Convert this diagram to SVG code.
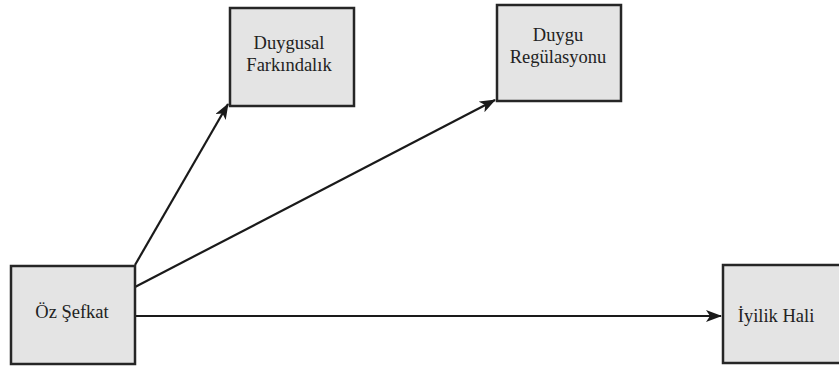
<svg xmlns="http://www.w3.org/2000/svg" width="839" height="369" viewBox="0 0 839 369">
<style>
.box{fill:#e4e4e4;stroke:#262626;stroke-width:2.5}
.lbl{font-family:'Liberation Serif','Times New Roman',serif;font-size:18.5px;fill:#222;text-anchor:middle}
.edge{stroke:#1a1a1a;stroke-width:2.2;fill:none;marker-end:url(#ah)}
</style>
<defs>
<marker id="ah" viewBox="0 0 16 12" refX="15" refY="6" markerWidth="16" markerHeight="12" markerUnits="userSpaceOnUse" orient="auto">
<path d="M0,0 L16,6 L0,12 L4,6 z" fill="#1a1a1a"/>
</marker>
</defs>
<rect width="839" height="369" fill="#fff"/>
<g id="connectors">
<line class="edge" x1="135" y1="265" x2="228" y2="104"/>
<line class="edge" x1="135" y1="287" x2="495" y2="100"/>
<line class="edge" x1="135" y1="316" x2="721" y2="316"/>
</g>
<g id="duygusal">
<rect class="box" x="230" y="8" width="124" height="98"/>
<text class="lbl" x="289" y="49">Duygusal</text>
<text class="lbl" x="289" y="71">Farkındalık</text>
</g>
<g id="duygu">
<rect class="box" x="497" y="5" width="124" height="96"/>
<text class="lbl" x="558" y="41">Duygu</text>
<text class="lbl" x="558" y="63">Regülasyonu</text>
</g>
<g id="oz">
<rect class="box" x="11" y="266" width="124" height="98"/>
<text class="lbl" x="72" y="318">Öz Şefkat</text>
</g>
<g id="iyilik">
<rect class="box" x="723" y="265" width="130" height="98"/>
<text class="lbl" x="776" y="322">İyilik Hali</text>
</g>
</svg>
